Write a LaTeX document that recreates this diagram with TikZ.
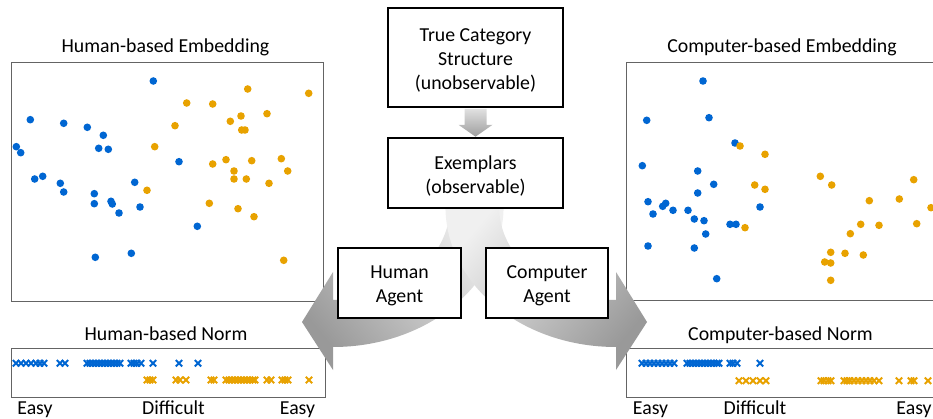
\documentclass[tikz,border=0pt]{standalone}
\usepackage{fontspec}
\setmainfont{Carlito}
\usetikzlibrary{calc}
\definecolor{catblue}{RGB}{0,102,210}
\definecolor{catorange}{RGB}{232,162,0}
\definecolor{framegray}{RGB}{100,100,100}
\tikzset{
  panel/.style={draw=framegray, line width=0.9pt, fill=white},
  stage/.style={draw=black, line width=1.6pt, fill=white, inner sep=0pt},
  stagetext/.style={align=center, font=\fontsize{19.8}{24}\selectfont,
    inner sep=0pt, yshift=-3pt},
  caption/.style={font=\fontsize{19.8}{24}\selectfont, anchor=base, inner sep=0pt},
  dotb/.style={fill=catblue},
  doto/.style={fill=catorange},
  flow/.style={draw=none},
}
\newcommand{\xmark}[3]{%
  \draw[#3, line width=1.9pt] (#1-3.2,#2-3.2) -- (#1+3.2,#2+3.2)
                               (#1-3.2,#2+3.2) -- (#1+3.2,#2-3.2);}
\begin{document}
\begin{tikzpicture}[x=1pt, y=-1pt]
\useasboundingbox (0,0) rectangle (933,419);
\clip (0,0) rectangle (933,419);

% ---------- panels ----------
\draw[panel] (11,62) rectangle (323,301);
\draw[panel] (626,62) rectangle (945,300);
\draw[panel] (11,348) rectangle (325,397);
\draw[panel] (626,348) rectangle (945,397);

\node[caption] (t1) at (165.5,52.7) {Human-based Embedding};
\node[caption] (t2) at (782,52.7) {Computer-based Embedding};
\node[caption] (t3) at (166,340.7) {Human-based Norm};
\node[caption] (t4) at (780.5,340.7) {Computer-based Norm};

\node[caption] (e1) at (35,414) {Easy};
\node[caption] (d1) at (173.5,414) {Difficult};
\node[caption] (e2) at (297.5,414) {Easy};
\node[caption] (e3) at (650.5,414) {Easy};
\node[caption] (d2) at (755,414) {Difficult};
\node[caption] (e4) at (914,414) {Easy};

% ---------- human-based embedding ----------
\foreach \x/\y in {153.3/81, 30.3/119.7, 63.7/123.3, 87.3/127.3, 103.3/135.3,
  16.3/146.7, 20.7/152.7, 98.7/148.3, 108.3/149.3, 179/161.7, 34.7/179,
  42.7/176.3, 60.3/183.3, 63.7/192, 134.7/182.3, 94.3/193.7, 94.3/203.7,
  111/201.3, 112.3/204, 119/213, 140/207, 197.3/226.3, 95.3/257.3, 131.3/253.3}
  \fill[dotb] (\x,\y) circle (3.8);
\foreach \x/\y in {247.7/89, 308.7/93.3, 186.7/103, 212.7/104, 267/113.7,
  241/116, 230.3/121.3, 175/125.7, 241.7/130, 245/130, 154.7/146.7,
  226/159.7, 251.7/160.7, 212.7/164, 281.3/158.7, 287.7/171, 234/171,
  234/179, 246.3/179, 269/183.3, 147/190.3, 209.3/203.3, 238/208.7,
  254/216.7, 283.7/260.3}
  \fill[doto] (\x,\y) circle (3.8);

% ---------- computer-based embedding ----------
\foreach \x/\y in {703/81, 646.7/120.3, 709/117.7, 735/143, 642.3/165.7,
  697.7/171, 713.7/184.3, 697.7/193, 648/201.7, 662.7/206.3, 665.7/203.3,
  653/214, 673/210.3, 688/210.3, 760/207, 694.3/219, 704/220.7, 730/224.3,
  736/224.3, 705.7/234, 648/246, 694.3/248, 716.7/278.7}
  \fill[dotb] (\x,\y) circle (3.8);
\foreach \x/\y in {740/146, 765/154.3, 754.7/185, 765/189.3, 745/227.7,
  820.3/176.3, 831.7/185, 913.7/179.7, 869.3/200.7, 899.3/199, 931/207.7,
  860.7/224.3, 879/225.3, 916.7/223.7, 850.3/233.7, 830.7/252.3, 845/253.3,
  863.3/255, 824.7/262, 830.7/263, 830.7/280.3}
  \fill[doto] (\x,\y) circle (3.8);

% ---------- norms ----------
\foreach \x in {16,21,26,31,36,40,44,60,65,87,90,93,96,99,102,105,108,111,
  114,117,120,131,134,137,141,153,179,198}
  {\xmark{\x}{363.3}{catblue}}
\foreach \x in {147,150,153,176,180,186,211,214,226,229,232,235,238,241,244,
  247,250,253,255,267,271,282,285,288,309}
  {\xmark{\x}{380}{catorange}}
\foreach \x in {642,646,650,654,658,662,666,670,674,687,690,693,696,699,702,
  705,708,711,714,717,719,730,733,737,760}
  {\xmark{\x}{363.3}{catblue}}
\foreach \x in {739,746,753,760,766,821,824,828,831,844,847,850,854,858,862,
  866,870,874,879,899,911,914,928}
  {\xmark{\x}{380.7}{catorange}}

% ---------- curved block arrows ----------
\shade[flow, top color=black!6, bottom color=black!40, shading angle=-50]
  (450,206) .. controls (450,258.8) and (397.6,300) .. (333,300)
  -- (333,272) -- (302,322) -- (333,370) -- (333,347)
  .. controls (427.2,347) and (503.6,284.8) .. (503.6,206) -- cycle;
\shade[flow, top color=black!6, bottom color=black!40, shading angle=50]
  (499,206) .. controls (499,258.8) and (551.4,300) .. (616,300)
  -- (616,272) -- (647,322) -- (616,370) -- (616,347)
  .. controls (521.8,347) and (445.4,284.8) .. (445.4,206) -- cycle;

% ---------- stages ----------
\node[stage, minimum width=175pt, minimum height=99pt] (tcs) at (475.5,57.5) {};
\node[stagetext] (tcs-t) at (tcs) {True Category\\Structure\\(unobservable)};
\node[stage, minimum width=175pt, minimum height=70pt] (ex) at (475.5,173) {};
\node[stagetext] (ex-t) at (ex) {Exemplars\\(observable)};
\node[stage, minimum width=123pt, minimum height=70pt] (ha) at (399.5,283) {};
\node[stagetext] (ha-t) at (ha) {Human\\Agent};
\node[stage, minimum width=122pt, minimum height=70pt] (ca) at (547,283) {};
\node[stagetext] (ca-t) at (ca) {Computer\\Agent};

% down arrow from the true structure to the exemplars
\shade[flow, top color=black!12, bottom color=black!38]
  ($(tcs.south)+(-11,1)$) -- ($(tcs.south)+(11,1)$) -- ($(tcs.south)+(11,17)$)
  -- ($(tcs.south)+(17,17)$) -- ($(ex.north)+(0,-0.5)$) -- ($(tcs.south)+(-17,17)$)
  -- ($(tcs.south)+(-11,17)$) -- cycle;
\end{tikzpicture}
\end{document}
